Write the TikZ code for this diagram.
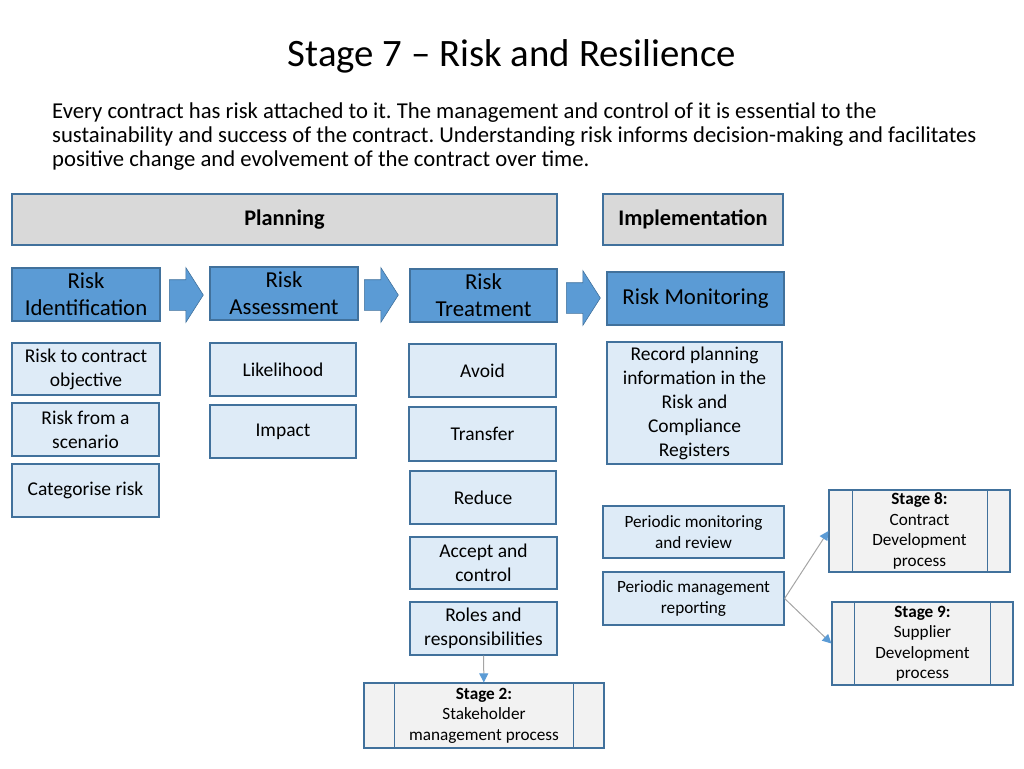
\documentclass[tikz,border=0pt]{standalone}
\usepackage{fontspec}
\setmainfont{Carlito}
\usetikzlibrary{arrows.meta,shapes.arrows}
\frenchspacing

\definecolor{stepblue}{HTML}{5B9BD5}
\definecolor{edgeblue}{HTML}{41719C}
\definecolor{itemblue}{HTML}{DEEBF7}
\definecolor{headgray}{HTML}{D9D9D9}
\definecolor{stagegray}{HTML}{F2F2F2}
\definecolor{linkgray}{HTML}{A5A5A5}

\tikzset{
  box/.style={draw=edgeblue, line width=1.2pt, align=center, inner sep=2pt},
  phase/.style={box, fill=headgray, font=\fontsize{22.3}{26}\selectfont\bfseries},
  stepbox/.style={box, fill=stepblue, font=\fontsize{22.8}{27}\selectfont},
  itembox/.style={box, fill=itemblue, font=\fontsize{19.5}{24}\selectfont},
  smallbox/.style={box, fill=itemblue, font=\fontsize{17.2}{21}\selectfont},
  stagebox/.style={box, fill=stagegray, font=\fontsize{17.2}{20.5}\selectfont},
  blockarrow/.style={single arrow, fill=stepblue, draw=edgeblue, line width=0.6pt,
    minimum height=34pt, minimum width=54pt, inner xsep=0pt, inner ysep=15pt,
    single arrow head extend=12pt, single arrow tip angle=115, anchor=tail},
  link/.style={draw=linkgray, line width=1pt, -{Triangle[length=9pt,width=9pt,color=stepblue]}}
}

\begin{document}
\begin{tikzpicture}[x=1pt, y=-1pt]
  \useasboundingbox (0,0) rectangle (1024,768);

  % title and introduction
  \node (title) at (512,56) {\fontsize{38.8}{46}\selectfont Stage 7 -- Risk and Resilience};
  \node[anchor=north west, align=left, inner sep=0pt, font=\fontsize{22.7}{24}\selectfont]
    (intro) at (52,103) {Every contract has risk attached to it. The management and control of it is essential to the\\
    sustainability and success of the contract. Understanding risk informs decision-making and facilitates\\
    positive change and evolvement of the contract over time.};

  % phases
  \node[phase, minimum width=545pt, minimum height=51pt] (plan) at (284.5,219.5) {Planning};
  \node[phase, minimum width=180pt, minimum height=51pt] (impl) at (693,219.5) {Implementation};

  % main steps
  \node[stepbox, minimum width=148pt, minimum height=53pt] (ident) at (86,294.5) {Risk\\Identification};
  \node[stepbox, minimum width=148pt, minimum height=53pt] (assess) at (284,293.5) {Risk\\Assessment};
  \node[stepbox, minimum width=147pt, minimum height=53pt] (treat) at (483.5,295.5) {Risk\\Treatment};
  \node[stepbox, minimum width=177pt, minimum height=53pt] (monit) at (695.5,298.5) {Risk Monitoring};

  \node[blockarrow] (go1) at (169,295) {};
  \node[blockarrow] (go2) at (364,295) {};
  \node[blockarrow] (go3) at (566,298) {};

  % identification
  \node[itembox, minimum width=148pt, minimum height=52pt] (ident1) at (86,369) {Risk to contract\\objective};
  \node[itembox, minimum width=147pt, minimum height=53pt] (ident2) at (85.5,429.5) {Risk from a\\scenario};
  \node[itembox, minimum width=147pt, minimum height=53pt] (ident3) at (85.5,490.5) {Categorise risk};

  % assessment
  \node[itembox, minimum width=146pt, minimum height=53pt] (assess1) at (283,369.5) {Likelihood};
  \node[itembox, minimum width=146pt, minimum height=53pt] (assess2) at (283,431.5) {Impact};

  % treatment
  \node[itembox, minimum width=147pt, minimum height=53pt] (treat1) at (482.5,370.5) {Avoid};
  \node[itembox, minimum width=147pt, minimum height=54pt] (treat2) at (482.5,434) {Transfer};
  \node[itembox, minimum width=146pt, minimum height=53pt] (treat3) at (483,497.5) {Reduce};
  \node[itembox, minimum width=147pt, minimum height=52pt] (treat4) at (483.5,563) {Accept and\\control};
  \node[itembox, minimum width=147pt, minimum height=53pt] (treat5) at (483.5,628.5) {Roles and\\responsibilities};

  % monitoring
  \node[itembox, minimum width=175pt, minimum height=122pt] (monit1) at (694.5,403)
    {Record planning\\information in the\\Risk and\\Compliance\\Registers};
  \node[smallbox, minimum width=181pt, minimum height=52pt] (monit2) at (693.5,532) {Periodic monitoring\\and review};
  \node[smallbox, minimum width=181pt, minimum height=53pt] (monit3) at (693.5,598.5) {Periodic management\\reporting};

  % linked stages
  \node[stagebox, minimum width=240pt, minimum height=65pt] (stage2) at (484,715.5)
    {\textbf{Stage 2:}\\Stakeholder\\management process};
  \node[stagebox, minimum width=181pt, minimum height=82pt] (stage8) at (919.5,531)
    {\textbf{Stage 8:}\\Contract\\Development\\process};
  \node[stagebox, minimum width=181pt, minimum height=83pt] (stage9) at (922.5,643.5)
    {\textbf{Stage 9:}\\Supplier\\Development\\process};

  \draw[edgeblue, line width=1.2pt] ([xshift=31pt]stage2.north west) -- ([xshift=31pt]stage2.south west)
    ([xshift=-31pt]stage2.north east) -- ([xshift=-31pt]stage2.south east);
  \draw[edgeblue, line width=1.2pt] ([xshift=24pt]stage8.north west) -- ([xshift=24pt]stage8.south west)
    ([xshift=-23pt]stage8.north east) -- ([xshift=-23pt]stage8.south east);
  \draw[edgeblue, line width=1.2pt] ([xshift=23pt]stage9.north west) -- ([xshift=23pt]stage9.south west)
    ([xshift=-23pt]stage9.north east) -- ([xshift=-23pt]stage9.south east);

  % connectors
  \draw[link] (treat5) -- (stage2);
  \draw[link] (monit3.east) -- (stage8.west);
  \draw[link] (monit3.east) -- (stage9.west);
\end{tikzpicture}
\end{document}
